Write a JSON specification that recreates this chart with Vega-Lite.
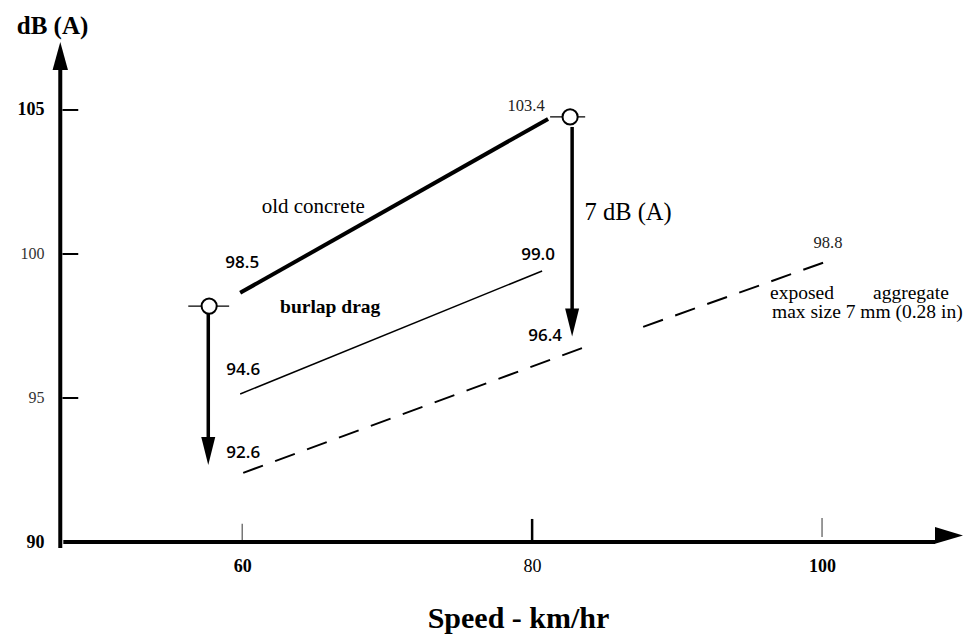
{
  "$schema": "https://vega.github.io/schema/vega-lite/v6.json",
  "width": 906,
  "height": 500,
  "autosize": {"type": "none"},
  "padding": {"left": 61, "top": 42, "right": 12, "bottom": 98},
  "background": "white",
  "config": {"view": {"stroke": null}, "font": "Liberation Serif"},
  "datasets": {
    "frame": [
      {"part": "y", "speed": 47.45, "db": 89.79, "speed2": 47.45, "db2": 106.5},
      {"part": "x", "speed": 47.66, "db": 90, "speed2": 107.8, "db2": 90}
    ],
    "heads": [
      {"dir": "up", "speed": 47.45, "db": 106.875},
      {"dir": "right", "speed": 108.76, "db": 90.23},
      {"dir": "down", "speed": 57.66, "db": 93.16},
      {"dir": "down", "speed": 82.76, "db": 97.62}
    ],
    "yticks": [
      {"db": 105, "speed": 47.6, "speed2": 48.69},
      {"db": 100, "speed": 47.6, "speed2": 48.69},
      {"db": 95, "speed": 47.6, "speed2": 48.69}
    ],
    "xticks": [
      {"speed": 60, "db": 90.07, "db2": 90.63},
      {"speed": 80, "db": 90, "db2": 90.8},
      {"speed": 100, "db": 90.17, "db2": 90.83}
    ],
    "series": [
      {"surface": "old concrete", "part": "a", "speed": 59.86, "db": 98.65},
      {"surface": "old concrete", "part": "a", "speed": 81.1, "db": 104.69},
      {"surface": "burlap drag", "part": "a", "speed": 59.86, "db": 95.14},
      {"surface": "burlap drag", "part": "a", "speed": 80.69, "db": 99.41},
      {"surface": "exposed aggregate", "part": "a", "speed": 60.07, "db": 92.4},
      {"surface": "exposed aggregate", "part": "a", "speed": 83.86, "db": 96.81},
      {"surface": "exposed aggregate", "part": "b", "speed": 87.66, "db": 97.47},
      {"surface": "exposed aggregate", "part": "b", "speed": 100.21, "db": 99.72}
    ],
    "drops": [
      {"speed": 57.72, "db": 98.19, "barLo": 56.28, "barHi": 59.1, "arrowX": 57.66, "arrowFrom": 97.99, "arrowTo": 93.3},
      {"speed": 82.62, "db": 104.76, "barLo": 81.24, "barHi": 83.66, "arrowX": 82.76, "arrowFrom": 104.41, "arrowTo": 97.9}
    ],
    "labels": [
      {"group": "value", "text": "98.5", "speed": 60, "db": 99.69},
      {"group": "value", "text": "94.6", "speed": 60.07, "db": 95.97},
      {"group": "value", "text": "92.6", "speed": 60.07, "db": 93.09},
      {"group": "value", "text": "99.0", "speed": 80.41, "db": 99.97},
      {"group": "value", "text": "96.4", "speed": 80.9, "db": 97.15},
      {"group": "curve", "text": "old concrete", "speed": 64.9, "db": 101.63},
      {"group": "drag", "text": "burlap drag", "speed": 66.07, "db": 98.16},
      {"group": "note", "text": "103.4", "speed": 79.59, "db": 105.14},
      {"group": "note", "text": "98.8", "speed": 100.41, "db": 100.38},
      {"group": "gap", "text": "7 dB (A)", "speed": 86.62, "db": 101.42},
      {"group": "aggregate", "text": "exposed", "speed": 96.41, "db": 98.65},
      {"group": "aggregate", "text": "aggregate", "speed": 103.52, "db": 98.65},
      {"group": "aggregate", "text": "max size 7 mm (0.28 in)", "speed": 96.55, "db": 97.99}
    ]
  },
  "encoding": {
    "x": {
      "field": "speed",
      "type": "quantitative",
      "scale": {"domain": [47.5, 110], "nice": false, "zero": false},
      "axis": {
        "values": [60, 80, 100],
        "domain": false,
        "ticks": false,
        "tickSize": 0,
        "grid": false,
        "labelPadding": 24,
        "labelBaseline": "middle",
        "labelFont": "Liberation Serif",
        "labelFontSize": 18,
        "labelFontWeight": {"condition": {"test": "datum.value == 80", "value": "normal"}, "value": "bold"},
        "labelColor": "black",
        "title": "Speed - km/hr",
        "titleFont": "Liberation Serif",
        "titleFontSize": 30,
        "titleFontWeight": "bold",
        "titleColor": "black",
        "titleX": 457,
        "titleY": 76,
        "titleAlign": "center",
        "titleBaseline": "middle"
      }
    },
    "y": {
      "field": "db",
      "type": "quantitative",
      "scale": {"domain": [90, 107.36], "nice": false, "zero": false},
      "axis": {
        "values": [90, 95, 100, 105],
        "domain": false,
        "ticks": false,
        "tickSize": 0,
        "grid": false,
        "labelPadding": 17,
        "labelOverlap": false,
        "labelFont": "Liberation Serif",
        "labelFontSize": {"condition": {"test": "datum.value == 100 || datum.value == 95", "value": 16}, "value": 18},
        "labelFontWeight": {"condition": {"test": "datum.value == 100 || datum.value == 95", "value": "normal"}, "value": "bold"},
        "labelColor": {"condition": {"test": "datum.value == 100 || datum.value == 95", "value": "#333333"}, "value": "black"},
        "title": "dB (A)",
        "titleFont": "Liberation Serif",
        "titleFontSize": 25,
        "titleFontWeight": "bold",
        "titleColor": "black",
        "titleAngle": 0,
        "titleX": -9,
        "titleY": -17,
        "titleAlign": "center",
        "titleBaseline": "middle"
      }
    }
  },
  "layer": [
    {
      "data": {"name": "frame"},
      "mark": {"type": "rule", "color": "black", "strokeWidth": 4},
      "encoding": {
        "x2": {"field": "speed2"},
        "y2": {"field": "db2"}
      }
    },
    {
      "data": {"name": "yticks"},
      "mark": {"type": "rule", "color": "black", "strokeWidth": 2},
      "encoding": {
        "x2": {"field": "speed2"}
      }
    },
    {
      "data": {"name": "xticks"},
      "mark": {"type": "rule"},
      "encoding": {
        "y2": {"field": "db2"},
        "color": {"condition": {"test": "datum.speed == 80", "value": "black"}, "value": "#555555"},
        "strokeWidth": {"condition": {"test": "datum.speed == 80", "value": 2.5}, "value": 1.2}
      }
    },
    {
      "data": {"name": "series"},
      "transform": [{"filter": "datum.surface == 'old concrete'"}],
      "mark": {"type": "line", "color": "black", "strokeWidth": 4}
    },
    {
      "data": {"name": "series"},
      "transform": [{"filter": "datum.surface == 'burlap drag'"}],
      "mark": {"type": "line", "color": "black", "strokeWidth": 1.5}
    },
    {
      "data": {"name": "series"},
      "transform": [{"filter": "datum.surface == 'exposed aggregate'"}],
      "mark": {"type": "line", "color": "black", "strokeWidth": 2, "strokeDash": [21, 13]},
      "encoding": {"detail": {"field": "part"}}
    },
    {
      "data": {"name": "drops"},
      "mark": {"type": "rule", "color": "black", "strokeWidth": 1.2},
      "encoding": {
        "x": {"field": "barLo", "type": "quantitative"},
        "x2": {"field": "barHi"}
      }
    },
    {
      "data": {"name": "drops"},
      "mark": {"type": "rule", "color": "black", "strokeWidth": 3.5},
      "encoding": {
        "x": {"field": "arrowX", "type": "quantitative"},
        "y": {"field": "arrowFrom", "type": "quantitative"},
        "y2": {"field": "arrowTo"}
      }
    },
    {
      "data": {"name": "drops"},
      "mark": {"type": "point", "shape": "circle", "filled": true, "fill": "white", "stroke": "black", "strokeWidth": 2, "size": 230, "opacity": 1}
    },
    {
      "data": {"name": "heads"},
      "mark": {"type": "point", "filled": true, "color": "black", "strokeWidth": 0, "size": 784, "opacity": 1},
      "encoding": {
        "shape": {
          "field": "dir",
          "type": "nominal",
          "scale": {
            "domain": ["up", "right", "down"],
            "range": ["M0,-1L0.55,1L-0.55,1Z", "M1,0L-1,-0.6L-1,0.6Z", "M0,1L-0.5,-1L0.5,-1Z"]
          },
          "legend": null
        }
      }
    },
    {
      "data": {"name": "labels"},
      "transform": [{"filter": "datum.group == 'value'"}],
      "mark": {"type": "text", "font": "Open Sans", "fontWeight": 600, "fontSize": 17, "baseline": "middle", "color": "black"},
      "encoding": {"text": {"field": "text"}}
    },
    {
      "data": {"name": "labels"},
      "transform": [{"filter": "datum.group == 'curve'"}],
      "mark": {"type": "text", "font": "Liberation Serif", "fontSize": 21, "baseline": "middle", "color": "black"},
      "encoding": {"text": {"field": "text"}}
    },
    {
      "data": {"name": "labels"},
      "transform": [{"filter": "datum.group == 'drag'"}],
      "mark": {"type": "text", "font": "Liberation Serif", "fontWeight": "bold", "fontSize": 19.5, "baseline": "middle", "color": "black"},
      "encoding": {"text": {"field": "text"}}
    },
    {
      "data": {"name": "labels"},
      "transform": [{"filter": "datum.group == 'note'"}],
      "mark": {"type": "text", "font": "Liberation Serif", "fontSize": 16.5, "baseline": "middle", "color": "#222222"},
      "encoding": {"text": {"field": "text"}}
    },
    {
      "data": {"name": "labels"},
      "transform": [{"filter": "datum.group == 'gap'"}],
      "mark": {"type": "text", "font": "Liberation Serif", "fontSize": 24.5, "baseline": "middle", "color": "black"},
      "encoding": {"text": {"field": "text"}}
    },
    {
      "data": {"name": "labels"},
      "transform": [{"filter": "datum.group == 'aggregate'"}],
      "mark": {"type": "text", "font": "Liberation Serif", "fontSize": 19.5, "align": "left", "baseline": "middle", "color": "black"},
      "encoding": {"text": {"field": "text"}}
    }
  ]
}
